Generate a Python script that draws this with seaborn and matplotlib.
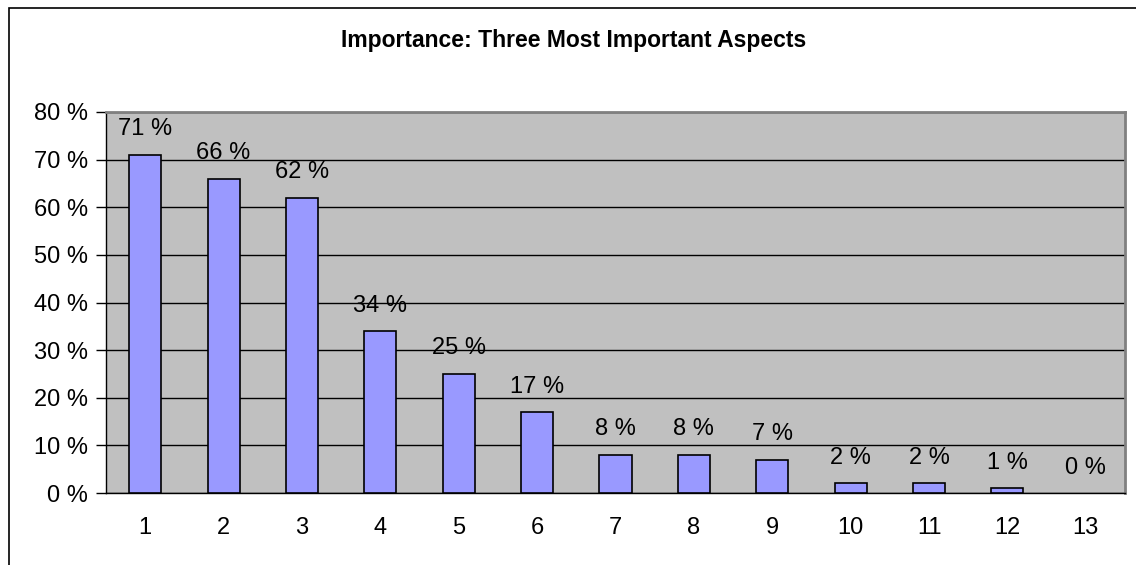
import matplotlib
matplotlib.use("Agg")
import matplotlib.pyplot as plt
from matplotlib.patches import Rectangle
from matplotlib.ticker import FixedLocator
import seaborn as sns
import pandas as pd

categories = ["1", "2", "3", "4", "5", "6", "7", "8", "9", "10", "11", "12", "13"]
shares = [71, 66, 62, 34, 25, 17, 8, 8, 7, 2, 2, 1, 0]
y_ticks = [0, 10, 20, 30, 40, 50, 60, 70, 80]
title = "Importance: Three Most Important Aspects"

sns.set_style("white")
plt.rcParams["font.family"] = ["Liberation Sans", "DejaVu Sans"]
plt.rcParams["text.color"] = "black"
plt.rcParams["xtick.color"] = "black"
plt.rcParams["ytick.color"] = "black"

df = pd.DataFrame({"aspect": categories, "share": shares})

fig = plt.figure(figsize=(11.36, 5.65), dpi=100)
ax = fig.add_axes([106 / 1136, 1 - 493 / 565, (1125 - 106) / 1136, (493 - 112) / 565])

# outer chart border (cropped on the right and bottom in the reference)
fig.patches.append(Rectangle((9 / 1136, -0.1), 1.2, 1 - 8 / 565 + 0.1,
                             transform=fig.transFigure, fill=False,
                             edgecolor="black", linewidth=1.2, zorder=0))

ax.set_facecolor("#C0C0C0")
sns.barplot(data=df, x="aspect", y="share", color="#9999FF", saturation=1,
            width=0.41, edgecolor="black", linewidth=1.2, ax=ax, zorder=3)
for p in ax.patches:
    if p.get_height() == 0:
        p.set_edgecolor("none")

for i, v in enumerate(shares):
    ax.annotate(f"{v} %", (i, v), xytext=(0, 14), textcoords="offset points",
                ha="center", va="baseline", fontsize=17)

ax.set_xlim(-0.5, len(categories) - 0.5)
ax.set_ylim(0, 80)
ax.set_yticks(y_ticks)
ax.set_yticklabels([f"{t} %" for t in y_ticks], fontsize=17)
ax.yaxis.grid(True, color="black", linewidth=1)
ax.set_axisbelow(True)

ax.set_xticks(range(len(categories)))
ax.set_xticklabels(categories, fontsize=17)
ax.xaxis.set_minor_locator(FixedLocator([i - 0.5 for i in range(len(categories) + 1)]))
ax.tick_params(axis="x", which="major", length=0, pad=17)
ax.tick_params(axis="x", which="minor", length=7, width=1, color="black", direction="out")
ax.tick_params(axis="y", length=7, width=1, color="black", direction="out", pad=6, left=True)
ax.set_xlabel("")
ax.set_ylabel("")

for side in ["left", "bottom"]:
    ax.spines[side].set_color("black")
    ax.spines[side].set_linewidth(1)
for side in ["top", "right"]:
    ax.spines[side].set_visible(True)
    ax.spines[side].set_color("#808080")
    ax.spines[side].set_linewidth(2)

fig.text(574 / 1136, 1 - 40 / 565, title, ha="center", va="center",
         fontsize=16.5, fontweight="bold")

fig.savefig("out.png", dpi=100)
